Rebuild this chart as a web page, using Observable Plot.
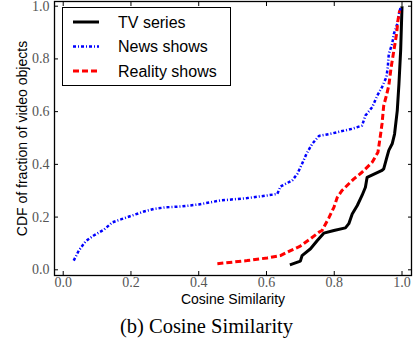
<!DOCTYPE html>
<html>
<head>
<meta charset="utf-8">
<script src="https://cdn.jsdelivr.net/npm/d3@7"></script>
<script src="https://cdn.jsdelivr.net/npm/@observablehq/plot@0.6"></script>
<style>
  html, body { margin: 0; padding: 0; background: #fff; }
  #wrap { position: relative; width: 413px; height: 345px; overflow: hidden; }
  #legend { position: absolute; left: 62px; top: 7px; width: 167px; height: 77px;
            border: 1px solid #000; background: #fff; }
  #legend svg { position: absolute; left: 0; top: 0; }
  #caption { position: absolute; left: 0; width: 413px; top: 315px; text-align: center;
             font-family: "Liberation Serif", "Times New Roman", serif; font-size: 20.5px; color: #000; }
</style>
</head>
<body>
<div id="wrap">
  <div id="chart"></div>
  <div id="legend"></div>
  <div id="caption">(b) Cosine Similarity</div>
</div>
<script>
// ---- data ----
const seriesNames = ["TV series", "News shows", "Reality shows"];
const seriesColors = ["#000000", "#0000ff", "#ff0000"];
const seriesDash = [null, "3,2,1,2", "6,3"];

const tvX = [0.669, 0.700, 0.705, 0.730, 0.750, 0.769, 0.799, 0.833, 0.843, 0.853, 0.868, 0.882, 0.892, 0.897, 0.941, 0.946, 0.954, 0.961, 0.971, 0.978, 0.986, 0.991, 0.996, 1.000];
const tvY = [0.019, 0.033, 0.054, 0.080, 0.111, 0.139, 0.149, 0.159, 0.175, 0.212, 0.244, 0.282, 0.313, 0.351, 0.377, 0.383, 0.421, 0.453, 0.478, 0.515, 0.604, 0.706, 0.832, 1.000];

const newsX = [0.031, 0.046, 0.066, 0.090, 0.120, 0.145, 0.174, 0.204, 0.238, 0.267, 0.302, 0.347, 0.400, 0.464, 0.543, 0.602, 0.632, 0.641, 0.676, 0.691, 0.705, 0.718, 0.735, 0.755, 0.789, 0.853, 0.882, 0.892, 0.912, 0.927, 0.941, 0.954, 0.958, 0.961, 0.971, 0.976, 0.986, 0.991, 0.996];
const newsY = [0.035, 0.073, 0.108, 0.130, 0.152, 0.180, 0.193, 0.206, 0.221, 0.231, 0.237, 0.240, 0.248, 0.263, 0.272, 0.282, 0.288, 0.316, 0.339, 0.364, 0.402, 0.440, 0.478, 0.508, 0.516, 0.535, 0.547, 0.585, 0.617, 0.661, 0.693, 0.731, 0.769, 0.819, 0.857, 0.895, 0.933, 0.971, 0.996];

const realX = [0.455, 0.543, 0.602, 0.641, 0.671, 0.700, 0.730, 0.755, 0.764, 0.784, 0.799, 0.809, 0.823, 0.858, 0.882, 0.912, 0.929, 0.937, 0.941, 0.946, 0.954, 0.961, 0.968, 0.976, 0.984, 0.988, 0.993];
const realY = [0.023, 0.035, 0.045, 0.054, 0.073, 0.090, 0.118, 0.143, 0.149, 0.197, 0.237, 0.275, 0.301, 0.345, 0.370, 0.408, 0.446, 0.516, 0.554, 0.623, 0.661, 0.699, 0.769, 0.832, 0.895, 0.946, 0.984];

const tickValues = [0.0, 0.2, 0.4, 0.6, 0.8, 1.0];
const xLabel = "Cosine Similarity";
const yLabel = "CDF of fraction of video objects";

// ---- build table ----
const rows = [];
[[tvX, tvY], [newsX, newsY], [realX, realY]].forEach(([xs, ys], i) => {
  xs.forEach((x, j) => rows.push({series: seriesNames[i], x, y: ys[j]}));
});

const fmt = d3.format(".1f");
const tickFont = {fontFamily: "'Liberation Serif', 'DejaVu Serif', serif", fontSize: 14, color: "#555"};

const lineMarks = seriesNames.map((name, i) =>
  Plot.line(rows.filter(r => r.series === name), {
    x: "x", y: "y",
    stroke: seriesColors[i],
    strokeWidth: i === 1 ? 2.5 : 3,
    strokeDasharray: seriesDash[i],
    strokeLinejoin: "round",
    strokeLinecap: "butt"
  })
);

const chart = Plot.plot({
  width: 413,
  height: 305,
  marginLeft: 54,
  marginRight: 2,
  marginTop: 1,
  marginBottom: 30,
  style: {background: "transparent", overflow: "visible"},
  x: {domain: [-0.0257, 1.028]},
  y: {domain: [-0.0216, 1.0178]},
  marks: [
    Plot.axisY({anchor: "left", ticks: tickValues, tickFormat: fmt, tickSize: -4, tickPadding: 9,
      label: null, fill: tickFont.color, fontFamily: tickFont.fontFamily, fontSize: tickFont.fontSize, stroke: "#000"}),
    Plot.axisY({anchor: "right", ticks: tickValues, tickFormat: () => "", tickSize: -4, label: null, stroke: "#000"}),
    Plot.axisX({anchor: "bottom", ticks: tickValues, tickFormat: fmt, tickSize: -4, tickPadding: 6,
      label: null, fill: tickFont.color, fontFamily: tickFont.fontFamily, fontSize: tickFont.fontSize, stroke: "#000"}),
    Plot.axisX({anchor: "top", ticks: tickValues, tickFormat: () => "", tickSize: -4, label: null, stroke: "#000"}),
    ...lineMarks,
    Plot.frame({stroke: "#000", strokeWidth: 1.3}),
    Plot.text([xLabel], {frameAnchor: "bottom", dy: 28, text: d => d, lineAnchor: "bottom", textAnchor: "middle",
      fontFamily: "'Liberation Sans', Arial, sans-serif", fontSize: 14, fill: "#000"}),
    Plot.text([yLabel], {frameAnchor: "left", dx: -32, rotate: -90, text: d => d, textAnchor: "middle", lineAnchor: "middle",
      fontFamily: "'Liberation Sans', Arial, sans-serif", fontSize: 14, fill: "#000"})
  ]
});
document.getElementById("chart").appendChild(chart);

// ---- legend ----
const ns = "http://www.w3.org/2000/svg";
const lsvg = document.createElementNS(ns, "svg");
lsvg.setAttribute("width", 167);
lsvg.setAttribute("height", 77);
seriesNames.forEach((name, i) => {
  const cy = 14 + i * 24.5;
  const ln = document.createElementNS(ns, "line");
  ln.setAttribute("x1", 10); ln.setAttribute("x2", 36);
  ln.setAttribute("y1", cy); ln.setAttribute("y2", cy);
  ln.setAttribute("stroke", seriesColors[i]);
  ln.setAttribute("stroke-width", i === 1 ? 2.5 : 3);
  if (seriesDash[i]) ln.setAttribute("stroke-dasharray", seriesDash[i]);
  lsvg.appendChild(ln);
  const t = document.createElementNS(ns, "text");
  t.setAttribute("x", 55); t.setAttribute("y", cy);
  t.setAttribute("dy", "0.35em");
  t.setAttribute("font-family", "'Liberation Sans', Arial, sans-serif");
  t.setAttribute("font-size", 16);
  t.textContent = name;
  lsvg.appendChild(t);
});
document.getElementById("legend").appendChild(lsvg);
</script>
</body>
</html>
